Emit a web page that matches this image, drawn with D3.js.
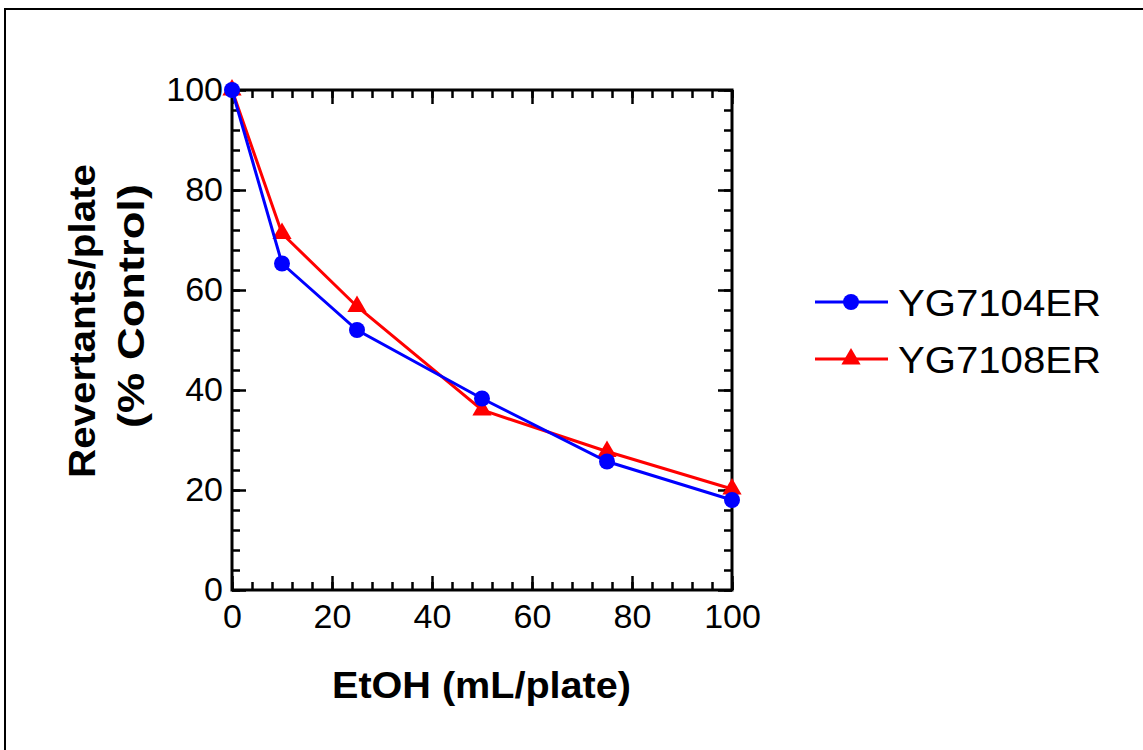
<!DOCTYPE html>
<html>
<head>
<meta charset="utf-8">
<script src="https://cdn.jsdelivr.net/npm/d3@7"></script>
<style>
  html, body { margin: 0; padding: 0; background: #fff; }
  svg { display: block; }
  text { font-family: "Liberation Sans", Arial, Helvetica, sans-serif; fill: #000; }
</style>
</head>
<body>
<svg id="chart" width="1143" height="750"></svg>
<script>
// EtOH dose (µL/plate)
const doses = [0, 10, 25, 50, 75, 100];
// Revertants/plate as % of control
const yg7104er = [100, 65.3, 52.0, 38.3, 25.7, 18.0];
const yg7108er = [100, 71.3, 56.7, 36.0, 27.7, 20.2];
const seriesNames = ["YG7104ER", "YG7108ER"];
const majorTicks = [0, 20, 40, 60, 80, 100];
const minorTicks = d3.range(0, 101, 4);

const svg = d3.select("#chart");

// page frame
svg.append("rect")
  .attr("x", 5).attr("y", 9).attr("width", 1200).attr("height", 800)
  .attr("fill", "none").attr("stroke", "#000").attr("stroke-width", 2);

const plotL = 232, plotR = 732, plotT = 90, plotB = 590;
const x = d3.scaleLinear().domain([0, 100]).range([plotL, plotR]);
const y = d3.scaleLinear().domain([0, 100]).range([plotB, plotT]);

const tickFont = "34px";

function styleAxis(g) {
  g.select(".domain").remove();
  g.selectAll(".tick line").attr("stroke", "#000").attr("stroke-width", 2.5);
  g.selectAll(".tick text").style("font-size", tickFont).attr("fill", "#000");
}

// minor ticks on all four sides, pointing inward
svg.append("g").attr("transform", `translate(0,${plotB})`)
  .call(d3.axisBottom(x).tickValues(minorTicks).tickSize(-8).tickFormat(""))
  .call(styleAxis);
svg.append("g").attr("transform", `translate(0,${plotT})`)
  .call(d3.axisTop(x).tickValues(minorTicks).tickSize(-8).tickFormat(""))
  .call(styleAxis);
svg.append("g").attr("transform", `translate(${plotL},0)`)
  .call(d3.axisLeft(y).tickValues(minorTicks).tickSize(-8).tickFormat(""))
  .call(styleAxis);
svg.append("g").attr("transform", `translate(${plotR},0)`)
  .call(d3.axisRight(y).tickValues(minorTicks).tickSize(-8).tickFormat(""))
  .call(styleAxis);

// major ticks with labels on bottom and left
svg.append("g").attr("transform", `translate(0,${plotB})`)
  .call(d3.axisBottom(x).tickValues(majorTicks).tickSize(-14).tickPadding(14).tickFormat(d3.format("d")))
  .call(styleAxis);
svg.append("g").attr("transform", `translate(0,${plotT})`)
  .call(d3.axisTop(x).tickValues(majorTicks).tickSize(-14).tickFormat(""))
  .call(styleAxis);
svg.append("g").attr("transform", `translate(${plotL},0)`)
  .call(d3.axisLeft(y).tickValues(majorTicks).tickSize(-14).tickPadding(9).tickFormat(d3.format("d")))
  .call(styleAxis);
svg.append("g").attr("transform", `translate(${plotR},0)`)
  .call(d3.axisRight(y).tickValues(majorTicks).tickSize(-14).tickFormat(""))
  .call(styleAxis);

// plot frame
svg.append("rect")
  .attr("x", plotL).attr("y", plotT).attr("width", plotR - plotL).attr("height", plotB - plotT)
  .attr("fill", "none").attr("stroke", "#000").attr("stroke-width", 3);

// series
const circleSym = d3.symbol().type(d3.symbolCircle).size(Math.PI * 8 * 8);
const triSym = d3.symbol().type(d3.symbolTriangle).size(160);

const series = [
  { name: seriesNames[1], values: yg7108er, color: "#ff0000", sym: triSym },
  { name: seriesNames[0], values: yg7104er, color: "#0000ff", sym: circleSym }
];

const line = d3.line().x(d => x(d[0])).y(d => y(d[1]));

series.forEach(s => {
  const pts = doses.map((d, i) => [d, s.values[i]]);
  svg.append("path").datum(pts)
    .attr("d", line)
    .attr("fill", "none").attr("stroke", s.color).attr("stroke-width", 3)
    .attr("stroke-linejoin", "miter");
  svg.append("g").selectAll("path").data(pts).join("path")
    .attr("d", s.sym)
    .attr("transform", d => `translate(${x(d[0])},${y(d[1])})`)
    .attr("fill", s.color);
});

// axis titles
svg.append("text")
  .attr("x", 332).attr("y", 698)
  .style("font-size", "36px").style("font-weight", "bold")
  .attr("textLength", 299).attr("lengthAdjust", "spacingAndGlyphs")
  .text("EtOH (mL/plate)");

svg.append("text")
  .attr("transform", "translate(95,321) rotate(-90)")
  .attr("text-anchor", "middle")
  .style("font-size", "36px").style("font-weight", "bold")
  .attr("textLength", 314).attr("lengthAdjust", "spacingAndGlyphs")
  .text("Revertants/plate");
svg.append("text")
  .attr("transform", "translate(144,306) rotate(-90)")
  .attr("text-anchor", "middle")
  .style("font-size", "36px").style("font-weight", "bold")
  .attr("textLength", 244).attr("lengthAdjust", "spacingAndGlyphs")
  .text("(% Control)");

// legend
const legend = [
  { name: seriesNames[0], color: "#0000ff", sym: circleSym, y: 302 },
  { name: seriesNames[1], color: "#ff0000", sym: triSym, y: 359 }
];
legend.forEach(l => {
  svg.append("line")
    .attr("x1", 815).attr("x2", 888).attr("y1", l.y).attr("y2", l.y)
    .attr("stroke", l.color).attr("stroke-width", 3);
  svg.append("path").attr("d", l.sym)
    .attr("transform", `translate(851,${l.y})`).attr("fill", l.color);
  svg.append("text")
    .attr("x", 898).attr("y", l.y + 14)
    .style("font-size", "37px")
    .attr("textLength", 203).attr("lengthAdjust", "spacingAndGlyphs")
    .text(l.name);
});
</script>
</body>
</html>
